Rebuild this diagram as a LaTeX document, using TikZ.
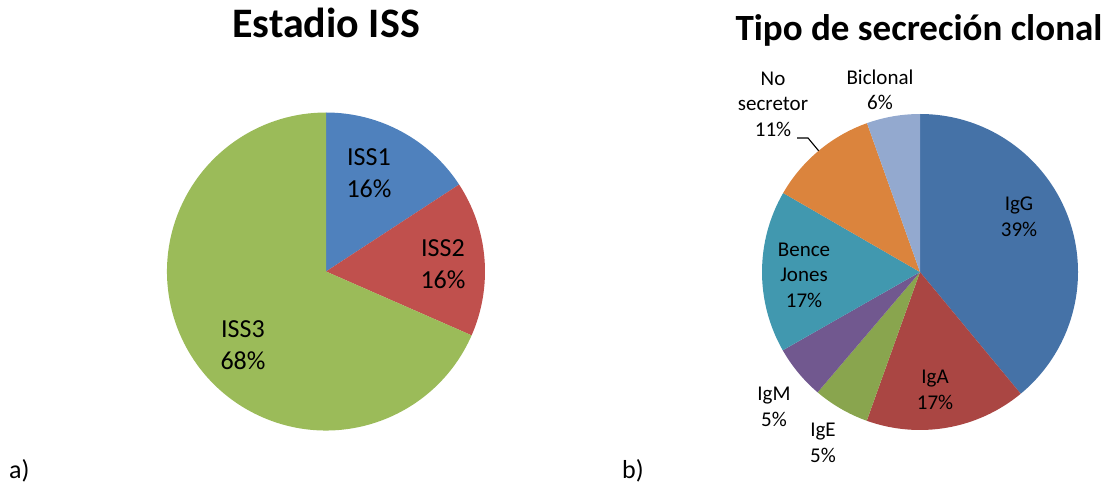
\documentclass[tikz,border=0pt]{standalone}
\usepackage{fontspec}
\setmainfont{Carlito}
\usetikzlibrary{calc}
\definecolor{issA}{HTML}{4F81BD}
\definecolor{issB}{HTML}{C0504D}
\definecolor{issC}{HTML}{9BBB59}
\definecolor{igG}{HTML}{4572A7}
\definecolor{igA}{HTML}{AA4643}
\definecolor{igE}{HTML}{89A54E}
\definecolor{igM}{HTML}{71588F}
\definecolor{bence}{HTML}{4198AF}
\definecolor{nosec}{HTML}{DB843D}
\definecolor{biclon}{HTML}{93A9CF}
\def\slice[#1](#2)(#3:#4:#5){\fill[#1] (#2) -- ($(#2)+({#5*cos(#3)},{#5*sin(#3)})$) arc (#3:#4:#5) -- cycle;}
\tikzset{
  bigtitle/.style={font=\fontsize{37}{44}\selectfont\bfseries, anchor=base},
  biglabel/.style={font=\fontsize{26}{31.5}\selectfont, align=center, inner sep=0pt},
  smalllabel/.style={font=\fontsize{21}{25.5}\selectfont, align=center, inner sep=0pt},
  panel/.style={font=\fontsize{26}{30}\selectfont, anchor=base west, inner sep=0pt}
}

\begin{document}
\begin{tikzpicture}[x=1pt, y=1pt]
			%%%%% START %%%%%
			\useasboundingbox (0, 0) rectangle (1109, 491);
			
			% a) Estadio ISS
			\coordinate (pieA) at (326, 219.5);
			\slice[issA](pieA)(90:33.16:159)
			\slice[issB](pieA)(33.16:-23.68:159)
			\slice[issC](pieA)(-23.68:-270:159)
			
			\node[bigtitle, font=\fontsize{42}{50}\selectfont\bfseries] (titleA) at (326, 453) {Estadio ISS};
			\node[biglabel] (iss1) at (369, 318) {ISS1\\16\%};
			\node[biglabel] (iss2) at (443, 227) {ISS2\\16\%};
			\node[biglabel] (iss3) at (243, 146) {ISS3\\68\%};
			\node[panel] (panelA) at (9, 13) {a)};
			
			% b) Tipo de secrecion clonal
			\coordinate (pieB) at (920, 219);
			\slice[igG](pieB)(90:-50.4:158)
			\slice[igA](pieB)(-50.4:-109.7:158)
			\slice[igE](pieB)(-109.7:-130.4:158)
			\slice[igM](pieB)(-130.4:-150.3:158)
			\slice[bence](pieB)(-150.3:-210:158)
			\slice[nosec](pieB)(-210:-250.4:158)
			\slice[biclon](pieB)(-250.4:-270:158)
			
			\node[bigtitle] (titleB) at (919, 450) {Tipo de secreción clonal};
			\node[smalllabel] (lblG) at (1019, 274) {IgG\\39\%};
			\node[smalllabel] (lblA) at (935, 101) {IgA\\17\%};
			\node[smalllabel] (lblE) at (823, 48) {IgE\\5\%};
			\node[smalllabel] (lblM) at (774, 84) {IgM\\5\%};
			\node[smalllabel] (lblBJ) at (804, 216) {Bence\\Jones\\17\%};
			\node[smalllabel] (lblNS) at (773, 387) {No\\secretor\\11\%};
			\node[smalllabel] (lblBi) at (880, 401) {Biclonal\\6\%};
			\node[panel] (panelB) at (622, 13) {b)};
			
			\coordinate (nsfoot) at (797, 353);
			\coordinate (nsedge) at ($(pieB)+(129.9:158)$);
			\draw[line width=1.1pt] (nsfoot) -- ++(11, 0) -- (nsedge);
			%%%%% END %%%%%
		\end{tikzpicture}
\end{document}
